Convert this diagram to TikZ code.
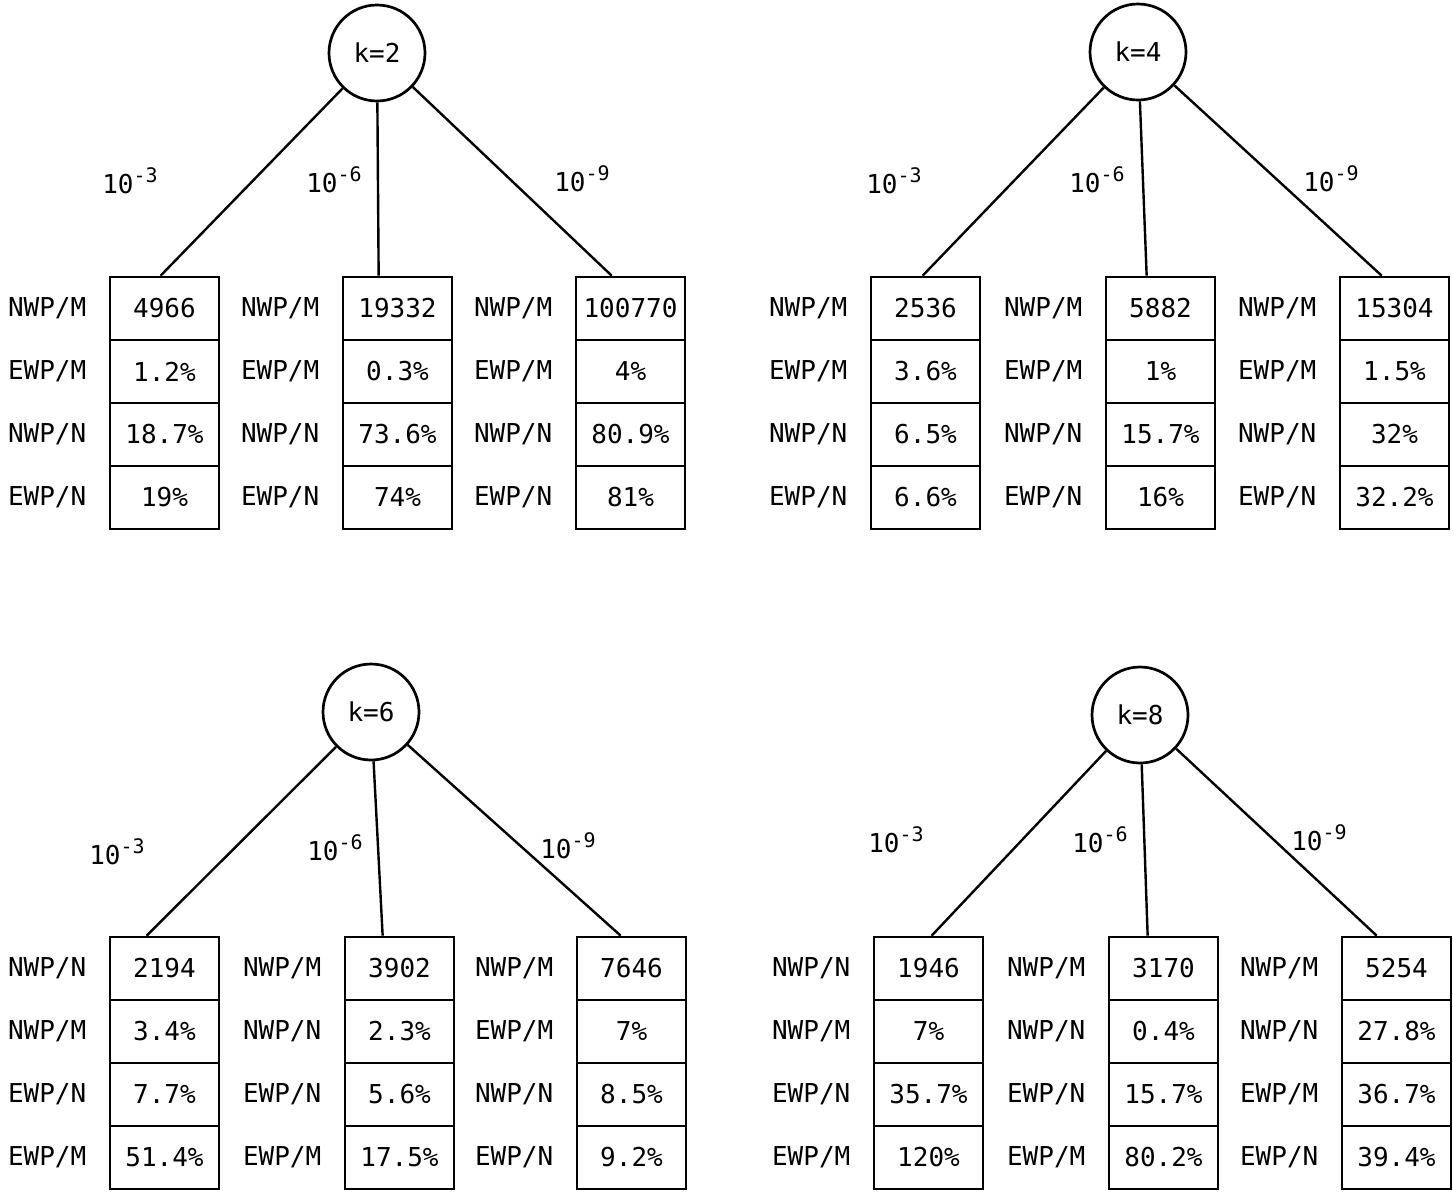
\documentclass[tikz,border=0pt]{standalone}
\usepackage{fontspec}
\setmainfont{DejaVu Sans Mono}
\usetikzlibrary{positioning, calc}

% one column of four cells with their row labels on the left
\newcommand{\valcol}[4]{%
  \foreach \lab/\val [count=\rw] in {#4}{
    \node[cell] (#1\rw) at ({#2+54.5},{#3+31.5+63*(\rw-1)}) {\val};
    \node[rowlbl, left=21pt of #1\rw] (#1\rw-l) {\lab};
  }}
% power of ten for a branch
\newcommand{\tenp}[1]{10\raisebox{0.42em}{\fontsize{20}{22}\selectfont-#1}}

\begin{document}
\begin{tikzpicture}[
    x=1pt, y=-1pt,
    font=\fontsize{26}{30}\selectfont,
    line width=2.7pt,
    root/.style  ={circle, draw, minimum size=96pt, inner sep=0pt},
    cell/.style  ={rectangle, draw, minimum width=109pt, minimum height=63pt, inner sep=0pt},
    rowlbl/.style={inner sep=0pt},
    expo/.style  ={inner sep=0pt},
    branch/.style={line width=2.4pt}
]
\useasboundingbox (0,0) rectangle (1453,1195);

% k=2
\node[root] (k2) at (377,53) {k=2};
\valcol{k2a}{110}{277}{{NWP/M}/4966, {EWP/M}/1.2\%, {NWP/N}/18.7\%, {EWP/N}/19\%}
\valcol{k2b}{343}{277}{{NWP/M}/19332, {EWP/M}/0.3\%, {NWP/N}/73.6\%, {EWP/N}/74\%}
\valcol{k2c}{576}{277}{{NWP/M}/100770, {EWP/M}/4\%, {NWP/N}/80.9\%, {EWP/N}/81\%}
\coordinate (k2a-top) at ($(k2a1.north west)+(52,0)$);
\coordinate (k2b-top) at ($(k2b1.north west)+(37,0)$);
\coordinate (k2c-top) at ($(k2c1.north west)+(37,0)$);
\draw[branch] (k2) -- (k2a-top);
\draw[branch] (k2) -- (k2b-top);
\draw[branch] (k2) -- (k2c-top);
\node[expo] (k2e3) at (130,181) {\tenp{3}};
\node[expo] (k2e6) at (334,180) {\tenp{6}};
\node[expo] (k2e9) at (582,179) {\tenp{9}};

% k=4
\node[root] (k4) at (1138,52) {k=4};
\valcol{k4a}{871}{277}{{NWP/M}/2536, {EWP/M}/3.6\%, {NWP/N}/6.5\%, {EWP/N}/6.6\%}
\valcol{k4b}{1106}{277}{{NWP/M}/5882, {EWP/M}/1\%, {NWP/N}/15.7\%, {EWP/N}/16\%}
\valcol{k4c}{1340}{277}{{NWP/M}/15304, {EWP/M}/1.5\%, {NWP/N}/32\%, {EWP/N}/32.2\%}
\coordinate (k4a-top) at ($(k4a1.north west)+(53,0)$);
\coordinate (k4b-top) at ($(k4b1.north west)+(42,0)$);
\coordinate (k4c-top) at ($(k4c1.north west)+(43,0)$);
\draw[branch] (k4) -- (k4a-top);
\draw[branch] (k4) -- (k4b-top);
\draw[branch] (k4) -- (k4c-top);
\node[expo] (k4e3) at (894,181) {\tenp{3}};
\node[expo] (k4e6) at (1097,180) {\tenp{6}};
\node[expo] (k4e9) at (1331,179) {\tenp{9}};

% k=6
\node[root] (k6) at (371,712) {k=6};
\valcol{k6a}{110}{937}{{NWP/N}/2194, {NWP/M}/3.4\%, {EWP/N}/7.7\%, {EWP/M}/51.4\%}
\valcol{k6b}{345}{937}{{NWP/M}/3902, {NWP/N}/2.3\%, {EWP/N}/5.6\%, {EWP/M}/17.5\%}
\valcol{k6c}{577}{937}{{NWP/M}/7646, {EWP/M}/7\%, {NWP/N}/8.5\%, {EWP/N}/9.2\%}
\coordinate (k6a-top) at ($(k6a1.north west)+(38,0)$);
\coordinate (k6b-top) at ($(k6b1.north west)+(39,0)$);
\coordinate (k6c-top) at ($(k6c1.north west)+(45,0)$);
\draw[branch] (k6) -- (k6a-top);
\draw[branch] (k6) -- (k6b-top);
\draw[branch] (k6) -- (k6c-top);
\node[expo] (k6e3) at (117,852) {\tenp{3}};
\node[expo] (k6e6) at (335,848) {\tenp{6}};
\node[expo] (k6e9) at (568,846) {\tenp{9}};

% k=8
\node[root] (k8) at (1140,715) {k=8};
\valcol{k8a}{874}{937}{{NWP/N}/1946, {NWP/M}/7\%, {EWP/N}/35.7\%, {EWP/M}/120\%}
\valcol{k8b}{1109}{937}{{NWP/M}/3170, {NWP/N}/0.4\%, {EWP/N}/15.7\%, {EWP/M}/80.2\%}
\valcol{k8c}{1342}{937}{{NWP/M}/5254, {NWP/N}/27.8\%, {EWP/M}/36.7\%, {EWP/N}/39.4\%}
\coordinate (k8a-top) at ($(k8a1.north west)+(59,0)$);
\coordinate (k8b-top) at ($(k8b1.north west)+(40,0)$);
\coordinate (k8c-top) at ($(k8c1.north west)+(36,0)$);
\draw[branch] (k8) -- (k8a-top);
\draw[branch] (k8) -- (k8b-top);
\draw[branch] (k8) -- (k8c-top);
\node[expo] (k8e3) at (896,840) {\tenp{3}};
\node[expo] (k8e6) at (1100,840) {\tenp{6}};
\node[expo] (k8e9) at (1319,838) {\tenp{9}};
\end{tikzpicture}
\end{document}
